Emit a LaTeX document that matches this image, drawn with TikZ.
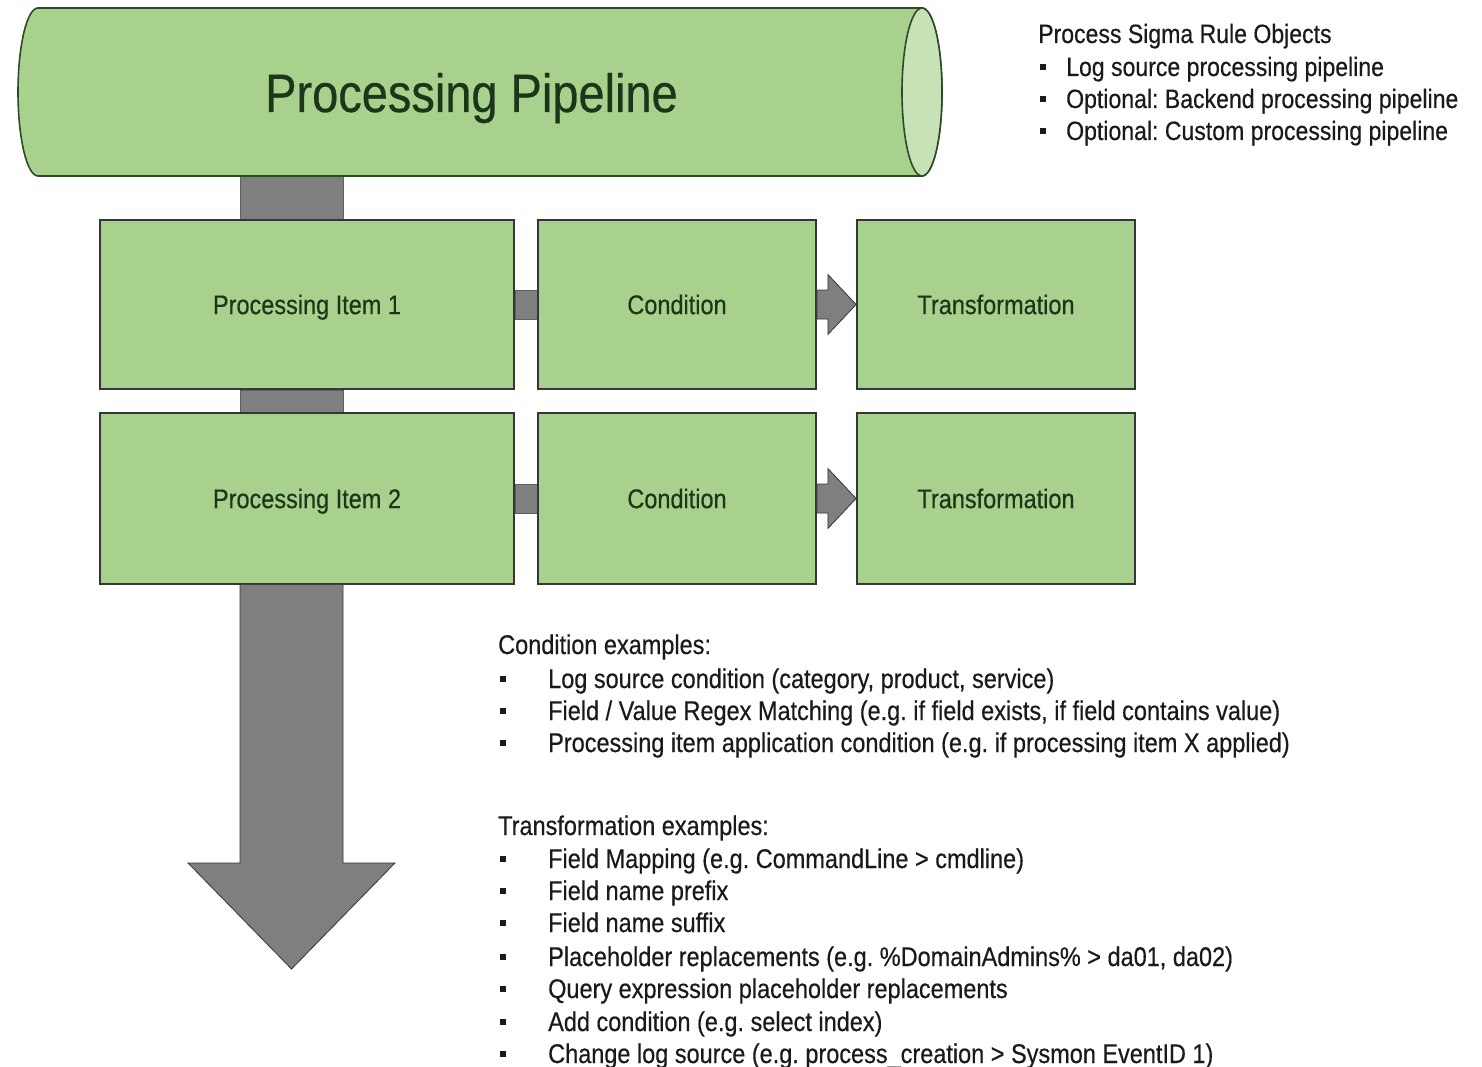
\documentclass[tikz,border=0pt]{standalone}
\usepackage{fontspec}
\setmainfont{Liberation Sans}[FakeStretch=0.87, FakeBold=0.45]
\usetikzlibrary{calc,backgrounds}
\definecolor{boxgreen}{HTML}{A9D18E}
\definecolor{endgreen}{HTML}{C8E2B8}
\definecolor{pipegray}{HTML}{7F7F7F}
\definecolor{edge}{HTML}{363636}
\definecolor{cyledge}{HTML}{2D4A28}
\definecolor{labeltext}{HTML}{1C361A}
\definecolor{bodytext}{HTML}{1A1A1A}
\frenchspacing
\begin{document}
\begin{tikzpicture}[x=1pt,y=-1pt,
  box/.style={draw=edge, line width=1.8pt, fill=boxgreen, inner sep=0pt, text=labeltext,
    font=\fontsize{27}{32}\selectfont, text height=19.3pt, text depth=0pt},
  pipe/.style={fill=pipegray, draw=pipegray!75!black, line width=0.6pt},
  bigarrow/.style={fill=pipegray, draw=edge, line width=0.8pt, line join=miter},
  txt/.style={anchor=base west, inner sep=0pt, text=bodytext, font=\fontsize{27}{32}\selectfont},
  toptxt/.style={anchor=base west, inner sep=0pt, text=bodytext, font=\fontsize{26.5}{31}\selectfont},
  bulletsq/.style={fill=bodytext, inner sep=0pt, minimum size=6.5pt},
  cylbody/.style={fill=boxgreen, draw=cyledge, line width=1.6pt},
  cylend/.style={fill=endgreen, draw=cyledge, line width=1.6pt},
]
\useasboundingbox (0,0) rectangle (1482,1067);

% ---- cylinder (processing pipeline) ----
\draw[cylbody] (922,8) arc[start angle=-90, end angle=90, x radius=20, y radius=84]
  -- (38,176) arc[start angle=90, end angle=270, x radius=20, y radius=84] -- cycle;
\draw[cylend] (922,92) ellipse [x radius=20, y radius=84];
\node[anchor=base, inner sep=0pt, text=labeltext, font=\fontsize{54}{60}\selectfont] (title) at (471.5,112) {Processing Pipeline};
\coordinate (cylbot) at (291.5,176);
\coordinate (pipeL) at (240,0);
\coordinate (pipeR) at (343,0);

% ---- boxes ----
\node[box, minimum width=414pt, minimum height=169pt] (pi1) at (307,304.5) {Processing Item 1};
\node[box, minimum width=278pt, minimum height=169pt] (c1) at (677,304.5) {Condition};
\node[box, minimum width=278pt, minimum height=169pt] (t1) at (996,304.5) {Transformation};
\node[box, minimum width=414pt, minimum height=171pt] (pi2) at (307,498.5) {Processing Item 2};
\node[box, minimum width=278pt, minimum height=171pt] (c2) at (677,498.5) {Condition};
\node[box, minimum width=278pt, minimum height=171pt] (t2) at (996,498.5) {Transformation};

% ---- connectors ----
\begin{scope}[on background layer]
  \draw[pipe] (pipeL |- cylbot) rectangle (pipeR |- pi1.north);
  \draw[pipe] (pipeL |- pi1.south) rectangle (pipeR |- pi2.north);
  \draw[pipe] ($(pi1.east)+(0,-14.5)$) rectangle ($(c1.west)+(0,14.5)$);
  \draw[pipe] ($(pi2.east)+(0,-14.5)$) rectangle ($(c2.west)+(0,14.5)$);
\end{scope}
\draw[bigarrow] ($(c1.east)+(0,-14.5)$) -- ++(11,0) -- ++(0,-15.5) -- (t1.west)
  -- ($(c1.east)+(11,30)$) -- ++(0,-15.5) -- ($(c1.east)+(0,14.5)$) -- cycle;
\draw[bigarrow] ($(c2.east)+(0,-14.5)$) -- ++(11,0) -- ++(0,-15.5) -- (t2.west)
  -- ($(c2.east)+(11,30)$) -- ++(0,-15.5) -- ($(c2.east)+(0,14.5)$) -- cycle;

% ---- big down arrow ----
\coordinate (headL) at (188,863);
\coordinate (headR) at (395,863);
\coordinate (tip) at (291.5,969);
\draw[bigarrow] (pipeL |- pi2.south) -- (pipeL |- headL) -- (headL) -- (tip)
  -- (headR) -- (pipeR |- headR) -- (pipeR |- pi2.south);

% ---- top-right text ----
\node[toptxt] (s0) at (1038,43) {Process Sigma Rule Objects};
\node[toptxt] (s1) at (1066,76) {Log source processing pipeline};
\node[toptxt] (s2) at (1066,108) {Optional: Backend processing pipeline};
\node[toptxt] (s3) at (1066,140) {Optional: Custom processing pipeline};
\foreach \yy [count=\i] in {67,99,131}
  \node[bulletsq, minimum size=6pt] (sb\i) at (1043,\yy) {};

% ---- condition examples ----
\node[txt] (ch) at (498,654) {Condition examples:};
\node[txt] (cl1) at (548,688) {Log source condition (category, product, service)};
\node[txt] (cl2) at (548,720) {Field / Value Regex Matching (e.g. if field exists, if field contains value)};
\node[txt] (cl3) at (548,752) {Processing item application condition (e.g. if processing item X applied)};
\foreach \yy [count=\i] in {679,711,743}
  \node[bulletsq] (cb\i) at (503,\yy) {};

% ---- transformation examples ----
\node[txt] (th) at (498,835) {Transformation examples:};
\node[txt] (tl1) at (548,868) {Field Mapping (e.g. CommandLine > cmdline)};
\node[txt] (tl2) at (548,900) {Field name prefix};
\node[txt] (tl3) at (548,932) {Field name suffix};
\node[txt] (tl4) at (548,966) {Placeholder replacements (e.g. \%DomainAdmins\% > da01, da02)};
\node[txt] (tl5) at (548,998) {Query expression placeholder replacements};
\node[txt] (tl6) at (548,1031) {Add condition (e.g. select index)};
\node[txt] (tl7) at (548,1063) {Change log source (e.g. process\_creation > Sysmon EventID 1)};
\foreach \yy [count=\i] in {859,891,923,957,989,1022,1054}
  \node[bulletsq] (tb\i) at (503,\yy) {};
\end{tikzpicture}
\end{document}
